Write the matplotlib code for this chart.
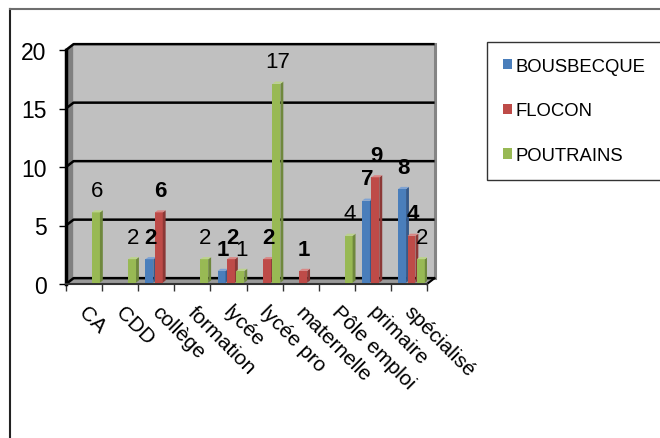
import matplotlib.pyplot as plt
from matplotlib.patches import Polygon, Rectangle, Patch
from matplotlib.lines import Line2D
from matplotlib.transforms import ScaledTranslation

plt.rcParams["font.family"] = ["Liberation Sans", "DejaVu Sans"]

categories = ["CA", "CDD", "collège", "formation", "lycée", "lycée pro",
              "maternelle", "Pôle emploi", "primaire", "spécialisé"]
series_names = ["BOUSBECQUE", "FLOCON", "POUTRAINS"]
bousbecque = [0, 0, 2, 0, 1, 0, 0, 0, 7, 8]
flocon = [0, 0, 6, 0, 2, 2, 1, 0, 9, 4]
poutrains = [6, 2, 0, 2, 1, 17, 0, 4, 0, 2]
y_ticks = [0, 5, 10, 15, 20]

# colours: front, side, top
colors = {
    "BOUSBECQUE": ("#4A7EBB", "#35598A", "#7FA3D3"),
    "FLOCON": ("#BE4B48", "#8C3836", "#D98785"),
    "POUTRAINS": ("#98B954", "#6F883D", "#BCD38C"),
}
label_weight = {"BOUSBECQUE": "bold", "FLOCON": "bold", "POUTRAINS": "normal"}

fig = plt.figure(figsize=(6.6, 4.39), dpi=100)
fig.patch.set_facecolor("white")

# chart border (left and top only)
fig.add_artist(Line2D([10.5 / 660, 10.5 / 660], [0, 1 - 9.5 / 439],
                      transform=fig.transFigure, color="#222222", lw=1.5))
fig.add_artist(Line2D([10 / 660, 1], [1 - 9.5 / 439, 1 - 9.5 / 439],
                      transform=fig.transFigure, color="#6e6e6e", lw=1.5))

ax = fig.add_axes([66 / 660, (439 - 285) / 439, (427 - 66) / 660, (285 - 51) / 439])
n = len(categories)
ymax = 20
ax.set_xlim(0, n)
ax.set_ylim(0, ymax)
ax.patch.set_visible(False)

dx, dy = 0.21, 0.5  # depth of the box

# back wall, side wall, floor
ax.add_patch(Polygon([(dx, dy), (n + dx, dy), (n + dx, ymax + dy), (dx, ymax + dy)],
                     closed=True, facecolor="#C0C0C0", edgecolor="none",
                     zorder=0, clip_on=False))
ax.add_patch(Polygon([(0, 0), (dx, dy), (dx, ymax + dy), (0, ymax)],
                     closed=True, facecolor="#808080", edgecolor="none",
                     zorder=0, clip_on=False))
ax.add_patch(Polygon([(0, 0), (n, 0), (n + dx, dy), (dx, dy)],
                     closed=True, facecolor="#9a9a9a", edgecolor="none",
                     zorder=0, clip_on=False))
ax.plot([n + dx, n + dx], [dy, ymax + dy], color="#858585", lw=2.2,
        zorder=1, clip_on=False)
ax.plot([n, n + dx], [0, dy], color="black", lw=1.5, zorder=1, clip_on=False)

for v in y_ticks:
    ax.plot([0, dx, n + dx], [v, v + dy, v + dy], color="black", lw=1.8,
            zorder=1, clip_on=False, solid_capstyle="butt")

# 3D-looking bars
width = 0.22
offsets = [0.31, 0.57, 0.83]
sdx, sdy = 0.08, 0.18
base = 0.12
all_values = [bousbecque, flocon, poutrains]
for i in range(n):
    for s, name in enumerate(series_names):
        v = all_values[s][i]
        if v == 0:
            continue
        front, side, top = colors[name]
        x0 = i + offsets[s] - width / 2
        y0 = base
        y1 = base + v
        ax.add_patch(Rectangle((x0, y0), width, v, facecolor=front,
                               edgecolor="none", zorder=3))
        ax.add_patch(Polygon([(x0 + width, y0), (x0 + width + sdx, y0 + sdy),
                              (x0 + width + sdx, y1 + sdy), (x0 + width, y1)],
                             closed=True, facecolor=side, edgecolor="none", zorder=3))
        ax.add_patch(Polygon([(x0, y1), (x0 + width, y1),
                              (x0 + width + sdx, y1 + sdy), (x0 + sdx, y1 + sdy)],
                             closed=True, facecolor=top, edgecolor="none", zorder=3))
        ax.text(i + offsets[s] + 0.03, y1 + 1.4, str(v), ha="center", va="baseline",
                fontsize=16, fontweight=label_weight[name], color="black", zorder=5)

# axes
for side in ["top", "right"]:
    ax.spines[side].set_visible(False)
ax.spines["left"].set_linewidth(2.5)
ax.spines["left"].set_color("black")
ax.spines["bottom"].set_linewidth(1.5)
ax.spines["bottom"].set_color("#333333")
ax.spines["left"].set_zorder(2)
ax.spines["bottom"].set_zorder(2)

ax.set_yticks(y_ticks)
ax.set_yticklabels([str(t) for t in y_ticks])
ax.tick_params(axis="y", length=5, width=1, pad=9, labelsize=16.5)

ax.set_xticks(range(n + 1))
ax.set_xticklabels([])
ax.tick_params(axis="x", which="major", length=5, width=1, color="#333333")
ax.set_xticks([i + 0.5 for i in range(n)], minor=True)
ax.set_xticklabels(categories, minor=True, rotation=-45, ha="left",
                   rotation_mode="anchor", fontsize=15)
ax.tick_params(axis="x", which="minor", length=0, pad=13)
shift = ScaledTranslation(5 / 100, 0, fig.dpi_scale_trans)
for lbl in ax.get_xticklabels(minor=True):
    lbl.set_transform(lbl.get_transform() + shift)

handles = [Patch(facecolor=colors[name][0], edgecolor="none") for name in series_names]
leg = fig.legend(handles, series_names, loc="upper left",
                 bbox_to_anchor=(487 / 660, 1 - 43 / 439), fontsize=13.3,
                 frameon=True, fancybox=False, edgecolor="black",
                 handlelength=0.5, handleheight=0.5, handletextpad=0.2,
                 labelspacing=1.5, borderpad=0.85, borderaxespad=0)
leg.get_frame().set_linewidth(1.0)

fig.savefig("out.png", dpi=100)
